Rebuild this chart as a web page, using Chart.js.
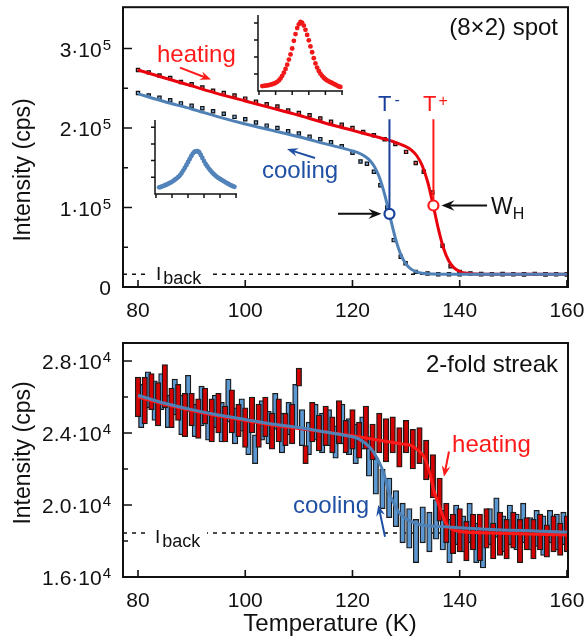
<!DOCTYPE html>
<html lang="en">
<head>
<meta charset="UTF-8">
<title>(8x2) spot and 2-fold streak intensity vs temperature</title>
<script src="https://cdn.jsdelivr.net/npm/chart.js"></script>
<style>
  body { margin: 0; background: #fff; }
  #wrap { position: relative; width: 585px; height: 640px; }
  canvas { position: absolute; }
  #top { left: 0; top: 0; }
  #bottom { left: 0; top: 320px; }
  #insetRed { left: 252px; top: 10px; }
  #insetBlue { left: 149px; top: 115px; }
</style>
</head>
<body>
<div id="wrap">
  <canvas id="top" width="585" height="320"></canvas>
  <canvas id="bottom" width="585" height="320"></canvas>
  <canvas id="insetRed" width="96" height="86"></canvas>
  <canvas id="insetBlue" width="92" height="84"></canvas>
</div>
<script>
// ---- ticks ----
const xTicks = [80, 100, 120, 140, 160];
const spotYTicks = [0, 1, 2, 3];          // x 10^5 cps
const spotYMinor = [0.5, 1.5, 2.5];
const spotYLabels = ['0', '1', '2', '3'];
const streakYTicks = [1.6, 2.0, 2.4, 2.8]; // x 10^4 cps
const streakYMinor = [1.8, 2.2, 2.6];
const streakYLabels = ['1.6', '2.0', '2.4', '2.8'];

// ---- top panel: (8x2) spot, intensity in 10^5 cps ----
const spotHeatT = [80, 82, 84, 86, 88, 90, 92, 94, 96, 98, 100, 102, 104, 106, 108, 110, 112, 114, 116, 118, 120, 122, 124, 126, 128, 130, 131.8, 133.3, 134.9, 136.8, 138.3, 140, 142, 144, 146, 148, 150, 152, 154, 156, 158, 160];
const spotHeatI = [2.73, 2.70, 2.66, 2.63, 2.58, 2.55, 2.51, 2.47, 2.44, 2.41, 2.37, 2.33, 2.30, 2.27, 2.22, 2.19, 2.16, 2.12, 2.08, 2.04, 2.00, 1.95, 1.91, 1.86, 1.80, 1.70, 1.56, 1.45, 1.19, 0.52, 0.26, 0.19, 0.17, 0.165, 0.16, 0.165, 0.16, 0.16, 0.165, 0.16, 0.16, 0.16];
const spotCoolT = [80, 82, 84, 86, 88, 90, 92, 94, 96, 98, 100, 102, 104, 106, 108, 110, 112, 114, 116, 118, 120, 121.5, 122.7, 124, 125.2, 126.5, 127.7, 129, 129.9, 131.8, 134, 136, 138, 140, 144, 148, 152, 156, 160];
const spotCoolI = [2.44, 2.41, 2.38, 2.35, 2.31, 2.28, 2.25, 2.21, 2.18, 2.14, 2.11, 2.07, 2.03, 2.00, 1.96, 1.93, 1.89, 1.86, 1.82, 1.77, 1.69, 1.58, 1.55, 1.45, 1.28, 1.00, 0.59, 0.38, 0.30, 0.19, 0.17, 0.16, 0.16, 0.16, 0.16, 0.16, 0.16, 0.16, 0.16];
const spotHeatFitT = [80, 85, 90, 95, 100, 105, 110, 115, 120, 125, 128, 130, 131, 132, 133, 134, 135, 136, 137, 138, 139, 140, 141, 142, 144, 150, 160.2];
const spotHeatFitI = [2.73, 2.63, 2.53, 2.43, 2.34, 2.25, 2.16, 2.06, 1.97, 1.88, 1.82, 1.765, 1.723, 1.651, 1.529, 1.329, 1.046, 0.737, 0.484, 0.323, 0.237, 0.195, 0.176, 0.167, 0.161, 0.16, 0.16];
const spotCoolFitT = [80, 85, 90, 95, 100, 105, 110, 115, 120, 121, 122, 123, 124, 125, 126, 127, 128, 129, 130, 131, 132, 133, 135, 140, 160.2];
const spotCoolFitI = [2.43, 2.33, 2.24, 2.14, 2.05, 1.97, 1.89, 1.80, 1.712, 1.69, 1.658, 1.608, 1.525, 1.383, 1.165, 0.887, 0.615, 0.411, 0.288, 0.222, 0.19, 0.174, 0.163, 0.16, 0.16];
const spotBack = 0.16;
const spotTMinus = 126.9, spotWMinus = 0.92;   // T-, intensity at half height
const spotTPlus = 135.1, spotWPlus = 1.025;    // T+

// ---- insets: peak profiles (arb. units) ----
const insetU = [0.2, 0.3, 0.4, 0.5, 0.6, 0.7, 0.8, 0.9, 1.0, 1.1, 1.2, 1.3, 1.4, 1.5, 1.6, 1.7, 1.8, 1.9, 2.0, 2.1, 2.2, 2.3, 2.4, 2.5, 2.6, 2.7, 2.8, 2.9, 3.0, 3.1, 3.2, 3.3, 3.4, 3.5, 3.6, 3.7, 3.8, 3.9, 4.0, 4.1, 4.2, 4.3, 4.4, 4.5, 4.6, 4.7, 4.8, 4.9];
const insetHeat = [0.29, 0.30, 0.32, 0.33, 0.35, 0.37, 0.40, 0.43, 0.48, 0.54, 0.62, 0.74, 0.89, 1.08, 1.30, 1.55, 1.85, 2.15, 2.50, 2.95, 3.35, 3.70, 3.92, 4.06, 4.00, 3.85, 3.60, 3.30, 2.98, 2.62, 2.28, 1.93, 1.62, 1.38, 1.18, 1.02, 0.89, 0.78, 0.69, 0.62, 0.57, 0.52, 0.47, 0.42, 0.37, 0.32, 0.27, 0.24];
const insetCool = [0.40, 0.42, 0.46, 0.50, 0.54, 0.58, 0.63, 0.68, 0.73, 0.80, 0.87, 0.94, 1.02, 1.12, 1.25, 1.40, 1.56, 1.72, 1.90, 2.08, 2.26, 2.42, 2.52, 2.56, 2.56, 2.50, 2.34, 2.16, 1.97, 1.80, 1.66, 1.52, 1.41, 1.30, 1.20, 1.11, 1.03, 0.96, 0.90, 0.84, 0.78, 0.73, 0.67, 0.62, 0.56, 0.51, 0.47, 0.43];

// ---- bottom panel: 2-fold streak, intensity in 10^4 cps (mean and half error) ----
const streakHeatT = [80, 81.25, 82.5, 83.75, 85, 86.25, 87.5, 88.75, 90, 91.25, 92.5, 93.75, 95, 96.25, 97.5, 98.75, 100, 101.25, 102.5, 103.75, 105, 106.25, 107.5, 108.75, 110, 111.25, 112.5, 113.75, 115, 116.25, 117.5, 118.75, 120, 121.25, 122.5, 123.75, 125, 126.25, 127.5, 128.75, 130, 131.25, 132.5, 133.75, 135, 136.25, 137.5, 138.75, 140, 141.25, 142.5, 143.75, 145, 146.25, 147.5, 148.75, 150, 151.25, 152.5, 153.75, 155, 156.25, 157.5, 158.75, 160];
const streakHeatI = [2.60, 2.58, 2.63, 2.56, 2.66, 2.54, 2.57, 2.50, 2.53, 2.48, 2.55, 2.47, 2.51, 2.45, 2.52, 2.47, 2.43, 2.50, 2.44, 2.49, 2.41, 2.47, 2.42, 2.45, 2.71, 2.28, 2.46, 2.40, 2.44, 2.39, 2.46, 2.38, 2.42, 2.36, 2.43, 2.35, 2.40, 2.36, 2.39, 2.32, 2.38, 2.31, 2.33, 2.25, 2.16, 2.03, 1.90, 1.84, 1.86, 1.80, 1.85, 1.82, 1.87, 1.80, 1.84, 1.81, 1.86, 1.80, 1.84, 1.81, 1.85, 1.80, 1.84, 1.81, 1.84];
const streakHeatErr = [0.11, 0.13, 0.10, 0.12, 0.12, 0.11, 0.10, 0.12, 0.09, 0.11, 0.10, 0.12, 0.11, 0.10, 0.12, 0.09, 0.11, 0.10, 0.12, 0.11, 0.10, 0.12, 0.09, 0.11, 0.05, 0.05, 0.11, 0.10, 0.11, 0.10, 0.12, 0.09, 0.11, 0.10, 0.12, 0.10, 0.11, 0.12, 0.10, 0.11, 0.09, 0.11, 0.10, 0.11, 0.12, 0.12, 0.11, 0.11, 0.12, 0.11, 0.10, 0.13, 0.11, 0.10, 0.12, 0.11, 0.10, 0.12, 0.09, 0.11, 0.10, 0.09, 0.10, 0.09, 0.10];
const streakCoolT = [80.6, 81.85, 83.1, 84.35, 85.6, 86.85, 88.1, 89.35, 90.6, 91.85, 93.1, 94.35, 95.6, 96.85, 98.1, 99.35, 100.6, 101.85, 103.1, 104.35, 105.6, 106.85, 108.1, 109.35, 110.6, 111.85, 113.1, 114.35, 115.6, 116.85, 118.1, 119.35, 120.6, 121.85, 123.1, 124.35, 125.6, 126.85, 128.1, 129.35, 130.6, 131.85, 133.1, 134.35, 135.6, 136.85, 138.1, 139.35, 140.6, 141.85, 143.1, 144.35, 145.6, 146.85, 148.1, 149.35, 150.6, 151.85, 153.1, 154.35, 155.6, 156.85, 158.1, 159.35];
const streakCoolI = [2.55, 2.64, 2.58, 2.63, 2.52, 2.60, 2.50, 2.62, 2.47, 2.55, 2.44, 2.52, 2.46, 2.58, 2.44, 2.50, 2.38, 2.31, 2.47, 2.43, 2.52, 2.40, 2.48, 2.55, 2.43, 2.37, 2.46, 2.40, 2.43, 2.35, 2.45, 2.38, 2.34, 2.40, 2.27, 2.16, 2.09, 2.04, 1.98, 1.90, 1.87, 1.80, 1.89, 1.85, 1.92, 1.86, 1.80, 1.89, 1.84, 1.90, 1.79, 1.76, 1.88, 1.93, 1.84, 1.89, 1.85, 1.90, 1.84, 1.87, 1.83, 1.88, 1.85, 1.87];
const streakCoolErr = [0.12, 0.10, 0.11, 0.10, 0.09, 0.10, 0.11, 0.10, 0.09, 0.11, 0.08, 0.09, 0.11, 0.12, 0.10, 0.09, 0.10, 0.08, 0.11, 0.09, 0.10, 0.11, 0.09, 0.12, 0.10, 0.09, 0.10, 0.11, 0.10, 0.09, 0.11, 0.10, 0.11, 0.09, 0.11, 0.10, 0.11, 0.11, 0.10, 0.11, 0.11, 0.12, 0.10, 0.11, 0.11, 0.11, 0.12, 0.11, 0.10, 0.11, 0.11, 0.11, 0.10, 0.11, 0.10, 0.11, 0.10, 0.11, 0.09, 0.10, 0.11, 0.09, 0.10, 0.09];
const streakHeatFitT = [80, 85, 90, 95, 100, 105, 110, 115, 120, 125, 129, 131, 132.4, 133.3, 134.3, 135.2, 136.5, 137.4, 139, 144, 160];
const streakHeatFitI = [2.60, 2.56, 2.525, 2.495, 2.47, 2.445, 2.425, 2.405, 2.385, 2.36, 2.34, 2.33, 2.30, 2.27, 2.19, 2.08, 1.97, 1.90, 1.86, 1.846, 1.833];
const streakCoolFitT = [80, 85, 90, 95, 100, 105, 110, 115, 119, 121, 123.4, 124.6, 125.8, 126.7, 127.7, 128.9, 130.8, 132.7, 136.5, 145, 160];
const streakCoolFitI = [2.61, 2.565, 2.53, 2.50, 2.475, 2.45, 2.43, 2.405, 2.385, 2.37, 2.315, 2.26, 2.18, 2.08, 2.01, 1.95, 1.91, 1.89, 1.88, 1.865, 1.85];
const streakBack = 1.844;

// ---- styling ----
const FONT = '"Liberation Sans", Arial, Helvetica, sans-serif';
const RED = '#e8000c', RED_TXT = '#ff1a1a', BAR_RED = '#d40000';
const BLUE = '#4f81b6', BLUE_TXT = '#1f50a3', BLUE_DARK = '#18409c', BAR_BLUE = '#5b98d2';

const pts = (xs, ys) => xs.map((x, i) => ({ x: x, y: ys[i] }));
const bars = (xs, mid, err) => xs.map((x, i) => ({ x: x, y: [mid[i] - err[i], mid[i] + err[i]] }));

function textRuns(ctx, x, y, parts, color) {
  ctx.fillStyle = color;
  ctx.textAlign = 'left';
  ctx.textBaseline = 'alphabetic';
  let cx = x;
  parts.forEach(p => {
    ctx.font = p[1] + 'px ' + FONT;
    cx += p[3] || 0;
    ctx.fillText(p[0], cx, y + (p[2] || 0));
    cx += ctx.measureText(p[0]).width;
  });
}

function arrow(ctx, x1, y1, x2, y2, color, w, hl) {
  const ang = Math.atan2(y2 - y1, x2 - x1);
  const hw = hl * 0.4;
  ctx.strokeStyle = color;
  ctx.fillStyle = color;
  ctx.lineWidth = w;
  ctx.beginPath();
  ctx.moveTo(x1, y1);
  ctx.lineTo(x2 - Math.cos(ang) * hl * 0.6, y2 - Math.sin(ang) * hl * 0.6);
  ctx.stroke();
  ctx.save();
  ctx.translate(x2, y2);
  ctx.rotate(ang);
  ctx.beginPath();
  ctx.moveTo(0, 0);
  ctx.lineTo(-hl, -hw);
  ctx.lineTo(-hl * 0.65, 0);
  ctx.lineTo(-hl, hw);
  ctx.closePath();
  ctx.fill();
  ctx.restore();
}

// annotation layout per panel (data coordinates where it makes sense)
const decorCfg = {
  top: {
    yTicks: spotYTicks, yMinor: spotYMinor, yLabels: spotYLabels, exp: '5',
    yTitleY: 170, xTitle: false,
    corner: '(8×2) spot', cornerDy: 28,
    back: { T: 83.36, I: 0.087, lineI: spotBack },
    texts: [
      { T: 83.54, I: 2.834, color: RED_TXT, parts: [['heating', 24]] },
      { T: 103.13, I: 1.373, color: BLUE_TXT, parts: [['cooling', 24]] },
      { T: 124.77, I: 2.209, color: BLUE_DARK, parts: [['T', 22], ['-', 16, -6, 3]] },
      { T: 133.16, I: 2.209, color: RED_TXT, parts: [['T', 22], ['+', 16, -5, 2]] },
      { T: 145.85, I: 0.924, color: '#111', parts: [['W', 23], ['H', 16, 5]] }
    ],
    arrows: [
      { a: [87.83, 2.759], b: [93.61, 2.609], color: RED_TXT, w: 2, hl: 11 },
      { a: [113.01, 1.623], b: [107.79, 1.735], color: BLUE_TXT, w: 2, hl: 11 },
      { a: [117.3, spotWMinus], b: [125.4, spotWMinus], color: '#111', w: 2, hl: 13 },
      { a: [145.1, spotWPlus], b: [136.6, spotWPlus], color: '#111', w: 2, hl: 13 }
    ]
  },
  bottom: {
    yTicks: streakYTicks, yMinor: streakYMinor, yLabels: streakYLabels, exp: '4',
    yTitleY: 133, xTitle: true,
    corner: '2-fold streak', cornerDy: 29,
    back: { T: 83.17, I: 1.789, lineI: streakBack },
    texts: [
      { T: 138.57, I: 2.294, color: RED_TXT, parts: [['heating', 24]] },
      { T: 108.91, I: 1.956, color: BLUE_TXT, parts: [['cooling', 24]] }
    ],
    arrows: [
      { a: [138.0, 2.297], b: [137.07, 2.157], color: RED_TXT, w: 2, hl: 11 },
      { a: [126.07, 1.824], b: [124.82, 2.0], color: BLUE_TXT, w: 2, hl: 11 }
    ]
  }
};

const decor = {
  id: 'decor',
  afterDatasetsDraw(chart) {
    const cfg = decorCfg[chart.canvas.id];
    if (!cfg) return;
    const ctx = chart.ctx, a = chart.chartArea, xs = chart.scales.x, ys = chart.scales.y;
    ctx.save();

    // I_back label, with a gap in the dashed line
    const bx = xs.getPixelForValue(cfg.back.T), by = ys.getPixelForValue(cfg.back.I);
    const ly = ys.getPixelForValue(cfg.back.lineI);
    ctx.fillStyle = '#fff';
    ctx.fillRect(bx - 7, ly - 3, 59, 6);
    textRuns(ctx, bx, by, [['I', 19], ['back', 18, 4, 2]], '#111');

    cfg.texts.forEach(t => textRuns(ctx, xs.getPixelForValue(t.T), ys.getPixelForValue(t.I), t.parts, t.color));
    cfg.arrows.forEach(r => arrow(ctx, xs.getPixelForValue(r.a[0]), ys.getPixelForValue(r.a[1]),
      xs.getPixelForValue(r.b[0]), ys.getPixelForValue(r.b[1]), r.color, r.w, r.hl));

    // frame
    ctx.strokeStyle = '#111';
    ctx.lineWidth = 2;
    ctx.strokeRect(a.left, a.top, a.right - a.left, a.bottom - a.top);

    // inward ticks
    ctx.lineWidth = 1.6;
    ctx.beginPath();
    xTicks.forEach(v => { const p = xs.getPixelForValue(v); ctx.moveTo(p, a.bottom); ctx.lineTo(p, a.bottom - 7); });
    cfg.yTicks.forEach(v => { const p = ys.getPixelForValue(v); ctx.moveTo(a.left, p); ctx.lineTo(a.left + 9, p); });
    cfg.yMinor.forEach(v => { const p = ys.getPixelForValue(v); ctx.moveTo(a.left, p); ctx.lineTo(a.left + 5, p); });
    ctx.stroke();

    // tick labels
    ctx.fillStyle = '#111';
    ctx.font = '21px ' + FONT;
    ctx.textAlign = 'center';
    ctx.textBaseline = 'alphabetic';
    xTicks.forEach(v => ctx.fillText(String(v), xs.getPixelForValue(v), a.bottom + 30));
    cfg.yTicks.forEach((v, i) => {
      const p = ys.getPixelForValue(v) + 8;
      const right = a.left - 12;
      if (cfg.yLabels[i] === '0') {
        ctx.font = '21px ' + FONT; ctx.textAlign = 'right';
        ctx.fillText('0', right, p);
        return;
      }
      ctx.font = '15px ' + FONT; ctx.textAlign = 'right';
      ctx.fillText(cfg.exp, right, p - 7);
      const ew = ctx.measureText(cfg.exp).width;
      ctx.font = '21px ' + FONT;
      ctx.fillText(cfg.yLabels[i] + '·10', right - ew - 1, p);
    });

    // axis titles
    ctx.save();
    ctx.translate(24, cfg.yTitleY);
    ctx.rotate(-Math.PI / 2);
    ctx.font = '23px ' + FONT;
    ctx.textAlign = 'center';
    ctx.textBaseline = 'middle';
    ctx.fillText('Intensity (cps)', 0, 0);
    ctx.restore();
    if (cfg.xTitle) {
      ctx.font = '24px ' + FONT;
      ctx.textAlign = 'center';
      ctx.textBaseline = 'alphabetic';
      ctx.fillText('Temperature (K)', 330, a.bottom + 54);
    }

    // corner label
    ctx.font = '24px ' + FONT;
    ctx.textAlign = 'right';
    ctx.fillText(cfg.corner, a.right - 10, a.top + cfg.cornerDy);
    ctx.restore();
  }
};

const hidden = { display: false };
function mainScales(ymin, ymax) {
  return {
    x: { type: 'linear', min: 77.2, max: 160.2, display: false, offset: false },
    y: { type: 'linear', min: ymin, max: ymax, display: false }
  };
}
const common = {
  responsive: false, animation: false, devicePixelRatio: 1,
  plugins: { legend: hidden, tooltip: { enabled: false } }
};

// ---- top chart ----
new Chart(document.getElementById('top'), {
  type: 'scatter',
  data: {
    datasets: [
      { data: [{ x: spotTMinus, y: spotWMinus }], pointRadius: 5, pointBorderWidth: 2.2,
        pointBorderColor: BLUE_DARK, pointBackgroundColor: '#fff', order: 0 },
      { data: [{ x: spotTPlus, y: spotWPlus }], pointRadius: 5, pointBorderWidth: 2.2,
        pointBorderColor: RED_TXT, pointBackgroundColor: '#fff', order: 0 },
      { data: [{ x: spotTMinus, y: 2.11 }, { x: spotTMinus, y: spotWMinus }], showLine: true,
        borderColor: BLUE_DARK, borderWidth: 2, pointRadius: 0, order: 1 },
      { data: [{ x: spotTPlus, y: 2.11 }, { x: spotTPlus, y: spotWPlus }], showLine: true,
        borderColor: RED_TXT, borderWidth: 2, pointRadius: 0, order: 1 },
      { data: pts(spotCoolFitT, spotCoolFitI), showLine: true, borderColor: BLUE, borderWidth: 3,
        pointRadius: 0, cubicInterpolationMode: 'monotone', order: 2 },
      { data: pts(spotHeatFitT, spotHeatFitI), showLine: true, borderColor: RED, borderWidth: 3,
        pointRadius: 0, cubicInterpolationMode: 'monotone', order: 3 },
      { data: pts(spotCoolT, spotCoolI), pointStyle: 'rect', pointRadius: 2.3, pointBorderWidth: 1.2,
        pointBorderColor: '#111', pointBackgroundColor: '#7aa6d6', order: 4 },
      { data: pts(spotHeatT, spotHeatI), pointStyle: 'rect', pointRadius: 2.3, pointBorderWidth: 1.2,
        pointBorderColor: '#111', pointBackgroundColor: '#f05050', order: 5 },
      { data: [{ x: 77.2, y: spotBack }, { x: 160.2, y: spotBack }], showLine: true, borderColor: '#111',
        borderWidth: 1.5, borderDash: [4, 5], pointRadius: 0, order: 6 }
    ]
  },
  options: Object.assign({}, common, {
    layout: { padding: { left: 123, right: 17, top: 5, bottom: 33 } },
    scales: mainScales(0, 3.52)
  }),
  plugins: [decor]
});

// ---- bottom chart ----
const barStyle = { type: 'bar', barThickness: 5.5, grouped: false, borderWidth: 1.3, borderColor: '#1a1a1a', borderSkipped: false };
new Chart(document.getElementById('bottom'), {
  type: 'bar',
  data: {
    datasets: [
      { type: 'line', data: pts(streakCoolFitT, streakCoolFitI), borderColor: BLUE, borderWidth: 3,
        pointRadius: 0, cubicInterpolationMode: 'monotone', order: 0 },
      { type: 'line', data: pts(streakHeatFitT, streakHeatFitI), borderColor: RED_TXT, borderWidth: 3,
        pointRadius: 0, cubicInterpolationMode: 'monotone', order: 1 },
      Object.assign({ data: bars(streakHeatT, streakHeatI, streakHeatErr), backgroundColor: BAR_RED, order: 2 }, barStyle),
      Object.assign({ data: bars(streakCoolT, streakCoolI, streakCoolErr), backgroundColor: BAR_BLUE, order: 3 }, barStyle),
      { type: 'line', data: [{ x: 77.2, y: streakBack }, { x: 160.2, y: streakBack }], borderColor: '#111',
        borderWidth: 1.5, borderDash: [4, 5], pointRadius: 0, order: 4 }
    ]
  },
  options: Object.assign({}, common, {
    layout: { padding: { left: 123, right: 17, top: 23, bottom: 63 } },
    scales: mainScales(1.6, 2.9)
  }),
  plugins: [decor]
});

// ---- insets ----
const insetAxes = {
  id: 'insetAxes',
  afterDatasetsDraw(chart) {
    const ctx = chart.ctx, a = chart.chartArea, xs = chart.scales.x, ys = chart.scales.y;
    ctx.save();
    ctx.strokeStyle = '#111';
    ctx.lineWidth = 1.5;
    ctx.beginPath();
    ctx.moveTo(a.left, a.top);
    ctx.lineTo(a.left, a.bottom);
    ctx.lineTo(a.right, a.bottom);
    [0, 1, 2, 3, 4, 5].forEach(u => { const p = xs.getPixelForValue(u); ctx.moveTo(p, a.bottom); ctx.lineTo(p, a.bottom + 4); });
    [1, 2, 3, 4].forEach(v => { const p = ys.getPixelForValue(v); ctx.moveTo(a.left, p); ctx.lineTo(a.left - 4, p); });
    ctx.stroke();
    ctx.restore();
  }
};
function inset(id, values, color, pad, ymax) {
  new Chart(document.getElementById(id), {
    type: 'scatter',
    data: { datasets: [{ data: pts(insetU, values), pointRadius: 2.4, pointBorderWidth: 0,
      pointBackgroundColor: color, clip: false }] },
    options: Object.assign({}, common, {
      layout: { padding: pad },
      scales: {
        x: { type: 'linear', min: -0.06, max: 5.06, display: false },
        y: { type: 'linear', min: 0, max: ymax, display: false }
      }
    }),
    plugins: [insetAxes]
  });
}
inset('insetRed', insetHeat, '#f01818', { left: 6, right: 5, top: 5, bottom: 5 }, 4.47);
inset('insetBlue', insetCool, '#5283ba', { left: 6, right: 4, top: 5, bottom: 5 }, 4.43);
</script>
</body>
</html>
